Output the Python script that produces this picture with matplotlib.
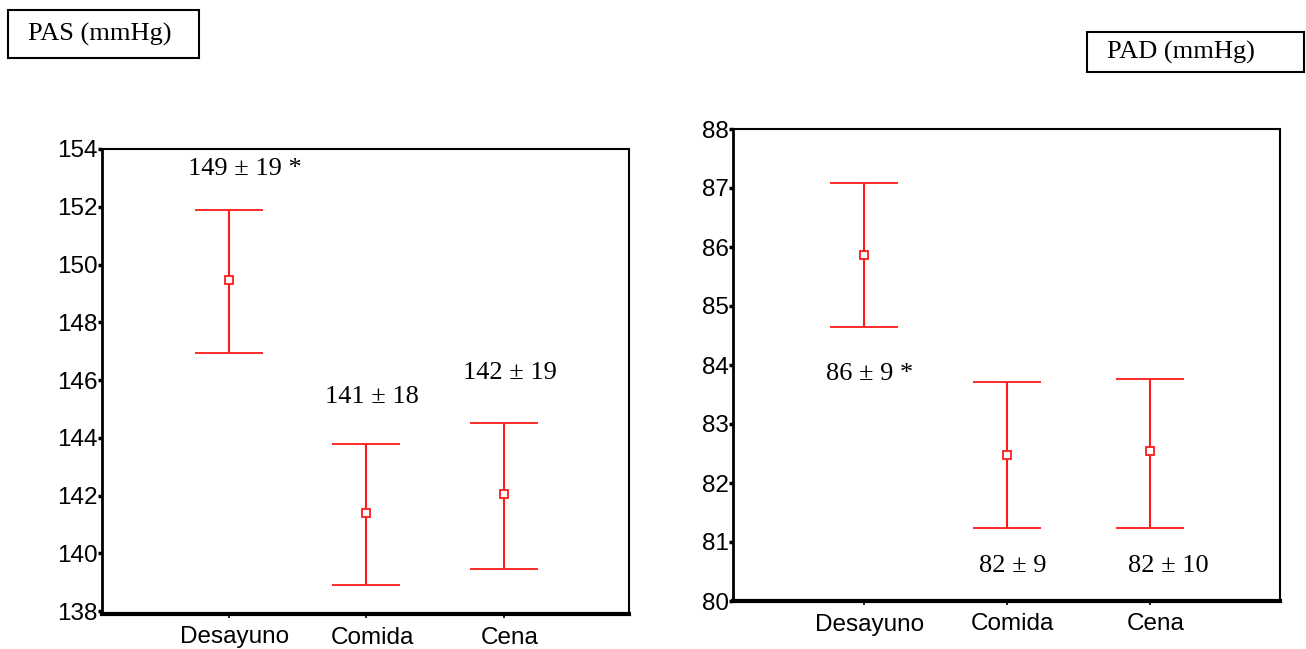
import matplotlib
matplotlib.use("Agg")
import matplotlib.pyplot as plt
from matplotlib.patches import Rectangle
from matplotlib.transforms import ScaledTranslation

categories = ["Desayuno", "Comida", "Cena"]

pas_mean = [149.47, 141.39, 142.05]
pas_upper = [151.89, 143.78, 144.50]
pas_lower = [146.95, 138.90, 139.46]
pas_labels = ["149 \u00b1 19 *", "141 \u00b1 18", "142 \u00b1 19"]
pas_label_y = [153.3, 145.43, 146.26]

pad_mean = [85.86, 82.47, 82.54]
pad_upper = [87.08, 83.71, 83.76]
pad_lower = [84.64, 81.24, 81.24]
pad_labels = ["86 \u00b1 9 *", "82 \u00b1 9", "82 \u00b1 10"]
pad_label_y = [83.85, 80.59, 80.59]

pas_ticks = [138, 140, 142, 144, 146, 148, 150, 152, 154]
pad_ticks = [80, 81, 82, 83, 84, 85, 86, 87, 88]

W, H = 1306, 649
fig = plt.figure(figsize=(W / 100, H / 100), dpi=100)
RED = "#ff1a1a"
SANS = "Liberation Sans"
SERIF = "Liberation Serif"


def make_ax(left, top, right, bottom):
    return fig.add_axes([left / W, 1 - bottom / H, (right - left) / W, (bottom - top) / H])


def draw_panel(ax, means, uppers, lowers, labels, label_y, ticks, ylim, xlim, label_dx_px):
    x = [1, 2, 3]
    lo = [m - l for m, l in zip(means, lowers)]
    hi = [u - m for m, u in zip(means, uppers)]
    ax.errorbar(x, means, yerr=[lo, hi], fmt="s", color=RED, ecolor=RED,
                elinewidth=1.5, capsize=24.5, capthick=1.5, markersize=5.5,
                markerfacecolor="white", markeredgecolor=RED, markeredgewidth=1.3)
    for xi, txt, ty, dx in zip(x, labels, label_y, label_dx_px):
        tr = ax.transData + ScaledTranslation(dx / 100, 0, fig.dpi_scale_trans)
        ax.text(xi, ty, txt, ha="center", va="center", transform=tr,
                fontsize=19, family=SERIF, color="black")
    ax.set_xlim(*xlim)
    ax.set_ylim(*ylim)
    ax.set_yticks(ticks)
    ax.set_yticklabels([str(t) for t in ticks], family=SANS, fontsize=17.5)
    # major ticks: marks only; minor ticks (slightly shifted): the category labels
    ax.set_xticks(x)
    ax.set_xticklabels([""] * len(x))
    px_per_unit = ax.get_position().width * W / (xlim[1] - xlim[0])
    shift = 6 / px_per_unit
    ax.set_xticks([xi + shift for xi in x], minor=True)
    ax.set_xticklabels(categories, minor=True, family=SANS, fontsize=17.5)
    ax.tick_params(axis="x", which="minor", length=0, pad=9)
    ax.tick_params(axis="y", length=3, width=2.5, pad=0, direction="out")
    ax.tick_params(axis="x", which="major", length=3, width=1.2, direction="out")
    for s in ["top", "right"]:
        ax.spines[s].set_linewidth(1.5)
    ax.spines["left"].set_linewidth(2)
    ax.spines["bottom"].set_linewidth(3)


# Left panel: PAS
ax1 = make_ax(102, 149, 629, 614)
draw_panel(ax1, pas_mean, pas_upper, pas_lower, pas_labels, pas_label_y,
           pas_ticks, (137.9, 154.0), (0.076, 3.91), [16, 5, 6])

# Right panel: PAD
ax2 = make_ax(733, 129, 1280, 601)
draw_panel(ax2, pad_mean, pad_upper, pad_lower, pad_labels, pad_label_y,
           pad_ticks, (80.0, 88.0), (0.084, 3.91), [6, 6, 18])


def title_box(x0, y0, x1, y1, txt, tx):
    fig.patches.append(Rectangle((x0 / W, 1 - y1 / H), (x1 - x0) / W, (y1 - y0) / H,
                                 transform=fig.transFigure, fill=False,
                                 edgecolor="black", linewidth=1.5))
    fig.text(tx / W, 1 - ((y0 + y1) / 2) / H, txt, ha="left", va="center",
             fontsize=19, family=SERIF)


title_box(8, 10, 199, 58, "PAS (mmHg)", 28)
title_box(1087, 32, 1304, 72, "PAD (mmHg)", 1107)

fig.savefig("out.png", dpi=100)
